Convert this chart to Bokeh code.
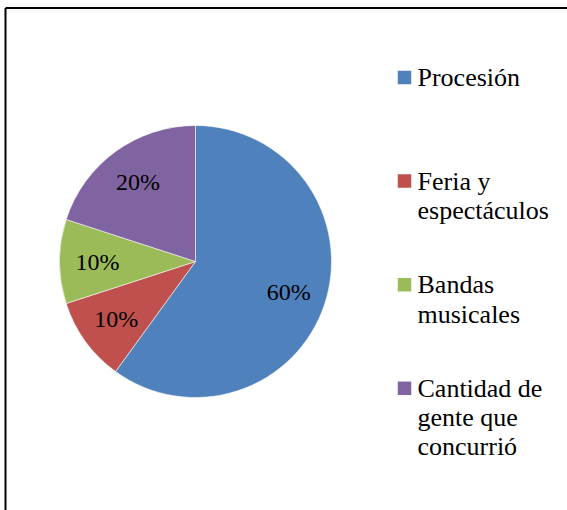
import numpy as np
from bokeh.plotting import figure
from bokeh.models import Range1d, ColumnDataSource
from bokeh.core.properties import value
from bokeh.embed import file_html
from bokeh.resources import INLINE

# ---- data ----
categories = ["Procesión", "Feria y\nespectáculos", "Bandas\nmusicales", "Cantidad de\ngente que\nconcurrió"]
shares = [60, 10, 10, 20]
pct_labels = ["60%", "10%", "10%", "20%"]
colors = ["#4F81BD", "#C0504D", "#9BBB59", "#8064A2"]

# ---- layout (page pixel coordinates; data y = 510 - page y) ----
W, H = 567, 510
PAGE_H = 510
p = figure(width=W, height=H, x_range=Range1d(0, W), y_range=Range1d(0, H),
           output_backend="svg", toolbar_location=None, min_border=0)
p.axis.visible = False
p.grid.visible = False
p.outline_line_color = None

cx, cy, R = 195, PAGE_H - 261, 136

vals = np.array(shares, dtype=float)
fr = vals / vals.sum()
c1 = np.cumsum(fr)
c0 = c1 - fr
start = np.pi / 2 - 2 * np.pi * c0
end = np.pi / 2 - 2 * np.pi * c1
mid = np.pi / 2 - 2 * np.pi * (c0 + c1) / 2

src = ColumnDataSource(dict(start=start, end=end, color=colors))
p.wedge(x=cx, y=cy, radius=R, start_angle="start", end_angle="end", direction="clock",
        fill_color="color", line_color="white", line_width=0.8, line_alpha=0.7, source=src)

lr = 0.72 * R
p.text(x=list(cx + lr * np.cos(mid)), y=list(cy + lr * np.sin(mid)), text=pct_labels,
       text_font=value("Times New Roman"), text_font_size="24px",
       text_align="center", text_baseline="middle")

# ---- legend ----
first_mid = 77
entry_gap = 103.6
line_gap = 29.3
sq_x, sq_size = 404, 13.5
tx = 417

sq = ColumnDataSource(dict(x=[sq_x] * len(categories),
                           y=[PAGE_H - (first_mid + i * entry_gap) for i in range(len(categories))],
                           color=colors))
p.rect(x="x", y="y", width=sq_size, height=sq_size, fill_color="color", line_color=None, source=sq)

lx, ly, lt = [], [], []
for i, cat in enumerate(categories):
    for j, line in enumerate(cat.split("\n")):
        lx.append(tx)
        ly.append(PAGE_H - (first_mid + i * entry_gap + j * line_gap))
        lt.append(line)
p.text(x=lx, y=ly, text=lt, text_font=value("Liberation Serif"), text_font_size="26px",
       text_baseline="middle")

# ---- chart border (left and top edges visible) ----
p.segment(x0=[5, 5], y0=[0, PAGE_H - 7.5], x1=[5, W], y1=[PAGE_H - 7.5, PAGE_H - 7.5],
          line_color="black", line_width=2)

open("out.html", "w").write(file_html(p, INLINE))
